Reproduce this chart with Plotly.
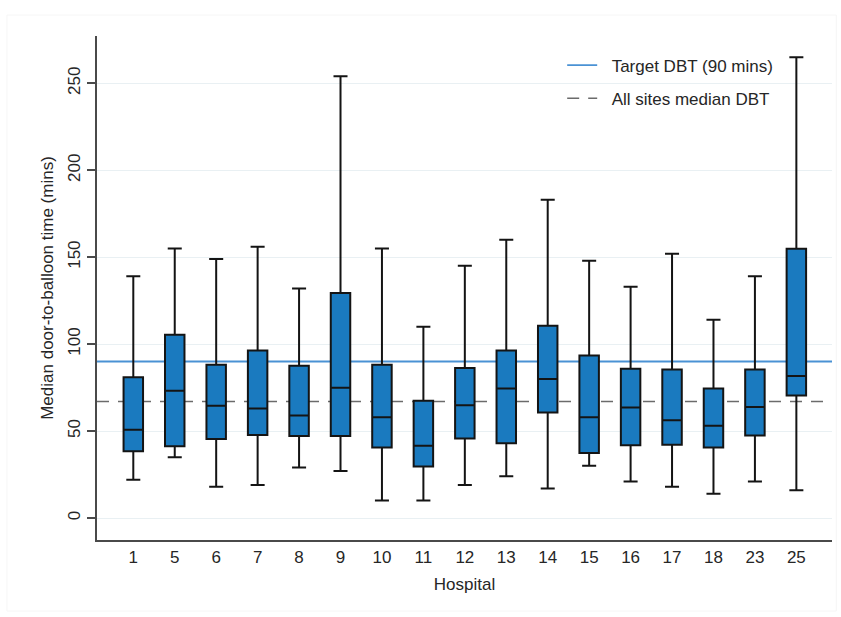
import plotly.graph_objects as go

# Door-to-balloon time summary per hospital (minutes)
hospitals = ["1", "5", "6", "7", "8", "9", "10", "11", "12", "13", "14", "15", "16", "17", "18", "23", "25"]
lower_whisker = [22, 35, 18, 19, 29, 27, 10, 10, 19, 24, 17, 30, 21, 18, 14, 21, 16]
q1 = [38.4, 41.3, 45.5, 47.8, 47.2, 47.2, 40.5, 29.6, 45.7, 43.0, 60.7, 37.4, 41.8, 42.2, 40.5, 47.4, 70.4]
median = [50.7, 73.2, 64.5, 63.0, 58.9, 74.9, 58.0, 41.5, 64.9, 74.5, 79.9, 58.0, 63.6, 56.2, 53.0, 63.9, 81.6]
q3 = [81.0, 105.4, 88.1, 96.4, 87.6, 129.4, 88.1, 67.4, 86.2, 96.4, 110.6, 93.5, 85.8, 85.4, 74.5, 85.4, 154.8]
upper_whisker = [139, 155, 149, 156, 132, 254, 155, 110, 145, 160, 183, 148, 133, 152, 114, 139, 265]

target_dbt = 90
all_sites_median = 67

y_ticks = [0, 50, 100, 150, 200, 250]

FONT = "Liberation Sans, Arial, sans-serif"
TEXT = "#262626"
AXIS = "#4a4a4a"
PAD = "\u00a0\u00a0"

fig = go.Figure()

fig.add_trace(go.Box(
    x=hospitals,
    q1=q1,
    median=median,
    q3=q3,
    lowerfence=lower_whisker,
    upperfence=upper_whisker,
    fillcolor="#1a7abf",
    line=dict(color="#141414", width=2),
    width=0.47,
    whiskerwidth=0.72,
    boxpoints=False,
    showlegend=False,
    hoverinfo="skip",
))

# Reference lines across the plot, drawn beneath the boxes and listed in the legend
fig.add_shape(
    type="line", xref="x domain", x0=0, x1=1, yref="y", y0=target_dbt, y1=target_dbt,
    line=dict(color="#4a92d4", width=1.9), layer="below",
    showlegend=True, name=PAD + "Target DBT (90 mins)", legendgroup="a", legendrank=1,
)
fig.add_shape(
    type="line", xref="x domain", x0=0, x1=1, yref="y", y0=all_sites_median, y1=all_sites_median,
    line=dict(color="#6b6b6b", width=1.7, dash="12px,9px"), layer="below",
    showlegend=True, name=PAD + "All sites median DBT", legendgroup="b", legendrank=2,
)

# Faint outline around the graph region
fig.add_shape(
    type="rect", xref="paper", yref="paper",
    x0=(7 - 97) / 734.7, x1=(836 - 97) / 734.7, y0=(540 - 611) / 504, y1=(540 - 15) / 504,
    line=dict(color="#f6f6f6", width=1), fillcolor="rgba(0,0,0,0)", layer="below",
)

fig.update_layout(
    width=841,
    height=617,
    margin=dict(l=97, r=9.3, t=36, b=77),
    paper_bgcolor="white",
    plot_bgcolor="white",
    font=dict(family=FONT, size=17, color=TEXT),
    legend=dict(
        x=(562 - 97) / 734.7, xanchor="left",
        y=0.977, yanchor="top",
        bgcolor="rgba(0,0,0,0)",
        traceorder="grouped",
        tracegroupgap=8,
        font=dict(family=FONT, size=17, color=TEXT),
    ),
    xaxis=dict(
        type="category",
        categoryorder="array",
        categoryarray=hospitals,
        range=[-0.876, 16.86],
        showline=True, linecolor=AXIS, linewidth=1.6,
        ticks="outside", ticklen=1, tickcolor="rgba(0,0,0,0)",
        showgrid=False, zeroline=False,
        title=dict(text="Hospital", standoff=12, font=dict(size=17)),
        tickfont=dict(size=17),
    ),
    yaxis=dict(
        range=[-12.65, 277.2],
        tickvals=y_ticks,
        ticktext=[str(v) for v in y_ticks],
        tickangle=-90,
        showline=True, linecolor=AXIS, linewidth=1.6,
        ticks="outside", ticklen=8, tickcolor=AXIS, tickwidth=1.6,
        showgrid=True, gridcolor="#e9f0f3", gridwidth=1.2,
        zeroline=False,
        title=dict(text="Median door-to-balloon time (mins)", standoff=7, font=dict(size=17)),
        tickfont=dict(size=17),
    ),
)

fig.write_html("out.html")
